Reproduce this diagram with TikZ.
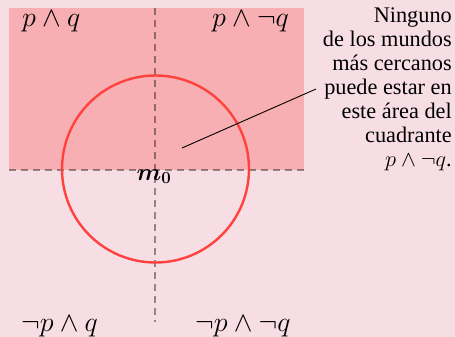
\RequirePackage{fix-cm}
\documentclass[tikz,border=0pt]{standalone}
\usepackage{amsmath,amssymb}
\usepackage{fontspec}
\setmainfont{Liberation Serif}
\definecolor{bgpink}{RGB}{247,222,229}
\definecolor{regionpink}{RGB}{247,175,179}
\definecolor{circred}{RGB}{255,66,62}
\begin{document}
\begin{tikzpicture}[x=1pt,y=-1pt,
  guide/.style={draw=black,draw opacity=0.4,line width=2.5pt,dash pattern=on 7pt off 5pt},
  quadlabel/.style={inner sep=0pt,anchor=base west,font=\fontsize{28}{32}\selectfont},
  note/.style={inner sep=0pt,align=right,font=\fontsize{22.3}{24}\selectfont}]
\useasboundingbox[fill=bgpink] (0,0) rectangle (455,337);
\fill[regionpink] (9,8) rectangle (304,170);
\coordinate (vtop) at (155,8);
\coordinate (vbot) at (155,322);
\coordinate (hleft) at (9,170);
\coordinate (hright) at (304,170);
\draw[guide] (vtop) -- (vbot);
\draw[guide] (hleft) -- (hright);
\node[draw=circred,line width=2.4pt,circle,minimum size=187pt,inner sep=0pt] (circ) at (155.5,169) {};
\node[anchor=base,inner sep=0pt,font=\fontsize{24}{26}\selectfont] (m0) at (154,180) {$\boldsymbol{m_0}$};
\node[quadlabel] (pq) at (22,27) {$p\wedge q$};
\node[quadlabel] (pnq) at (212,27) {$p\wedge\neg q$};
\node[quadlabel] (npq) at (21,331) {$\neg p\wedge q$};
\node[quadlabel] (npnq) at (195,331) {$\neg p\wedge\neg q$};
\node[note,anchor=north east] (txt) at (452,7.5) {Ninguno\\de los mundos\\más cercanos\\puede estar en\\este área del\\cuadrante\\$p\wedge\neg q$.};
\coordinate (ptr) at (182,148);
\coordinate (ptrend) at (316,89);
\draw[line width=0.9pt] (ptr) -- (ptrend);
\end{tikzpicture}
\end{document}
